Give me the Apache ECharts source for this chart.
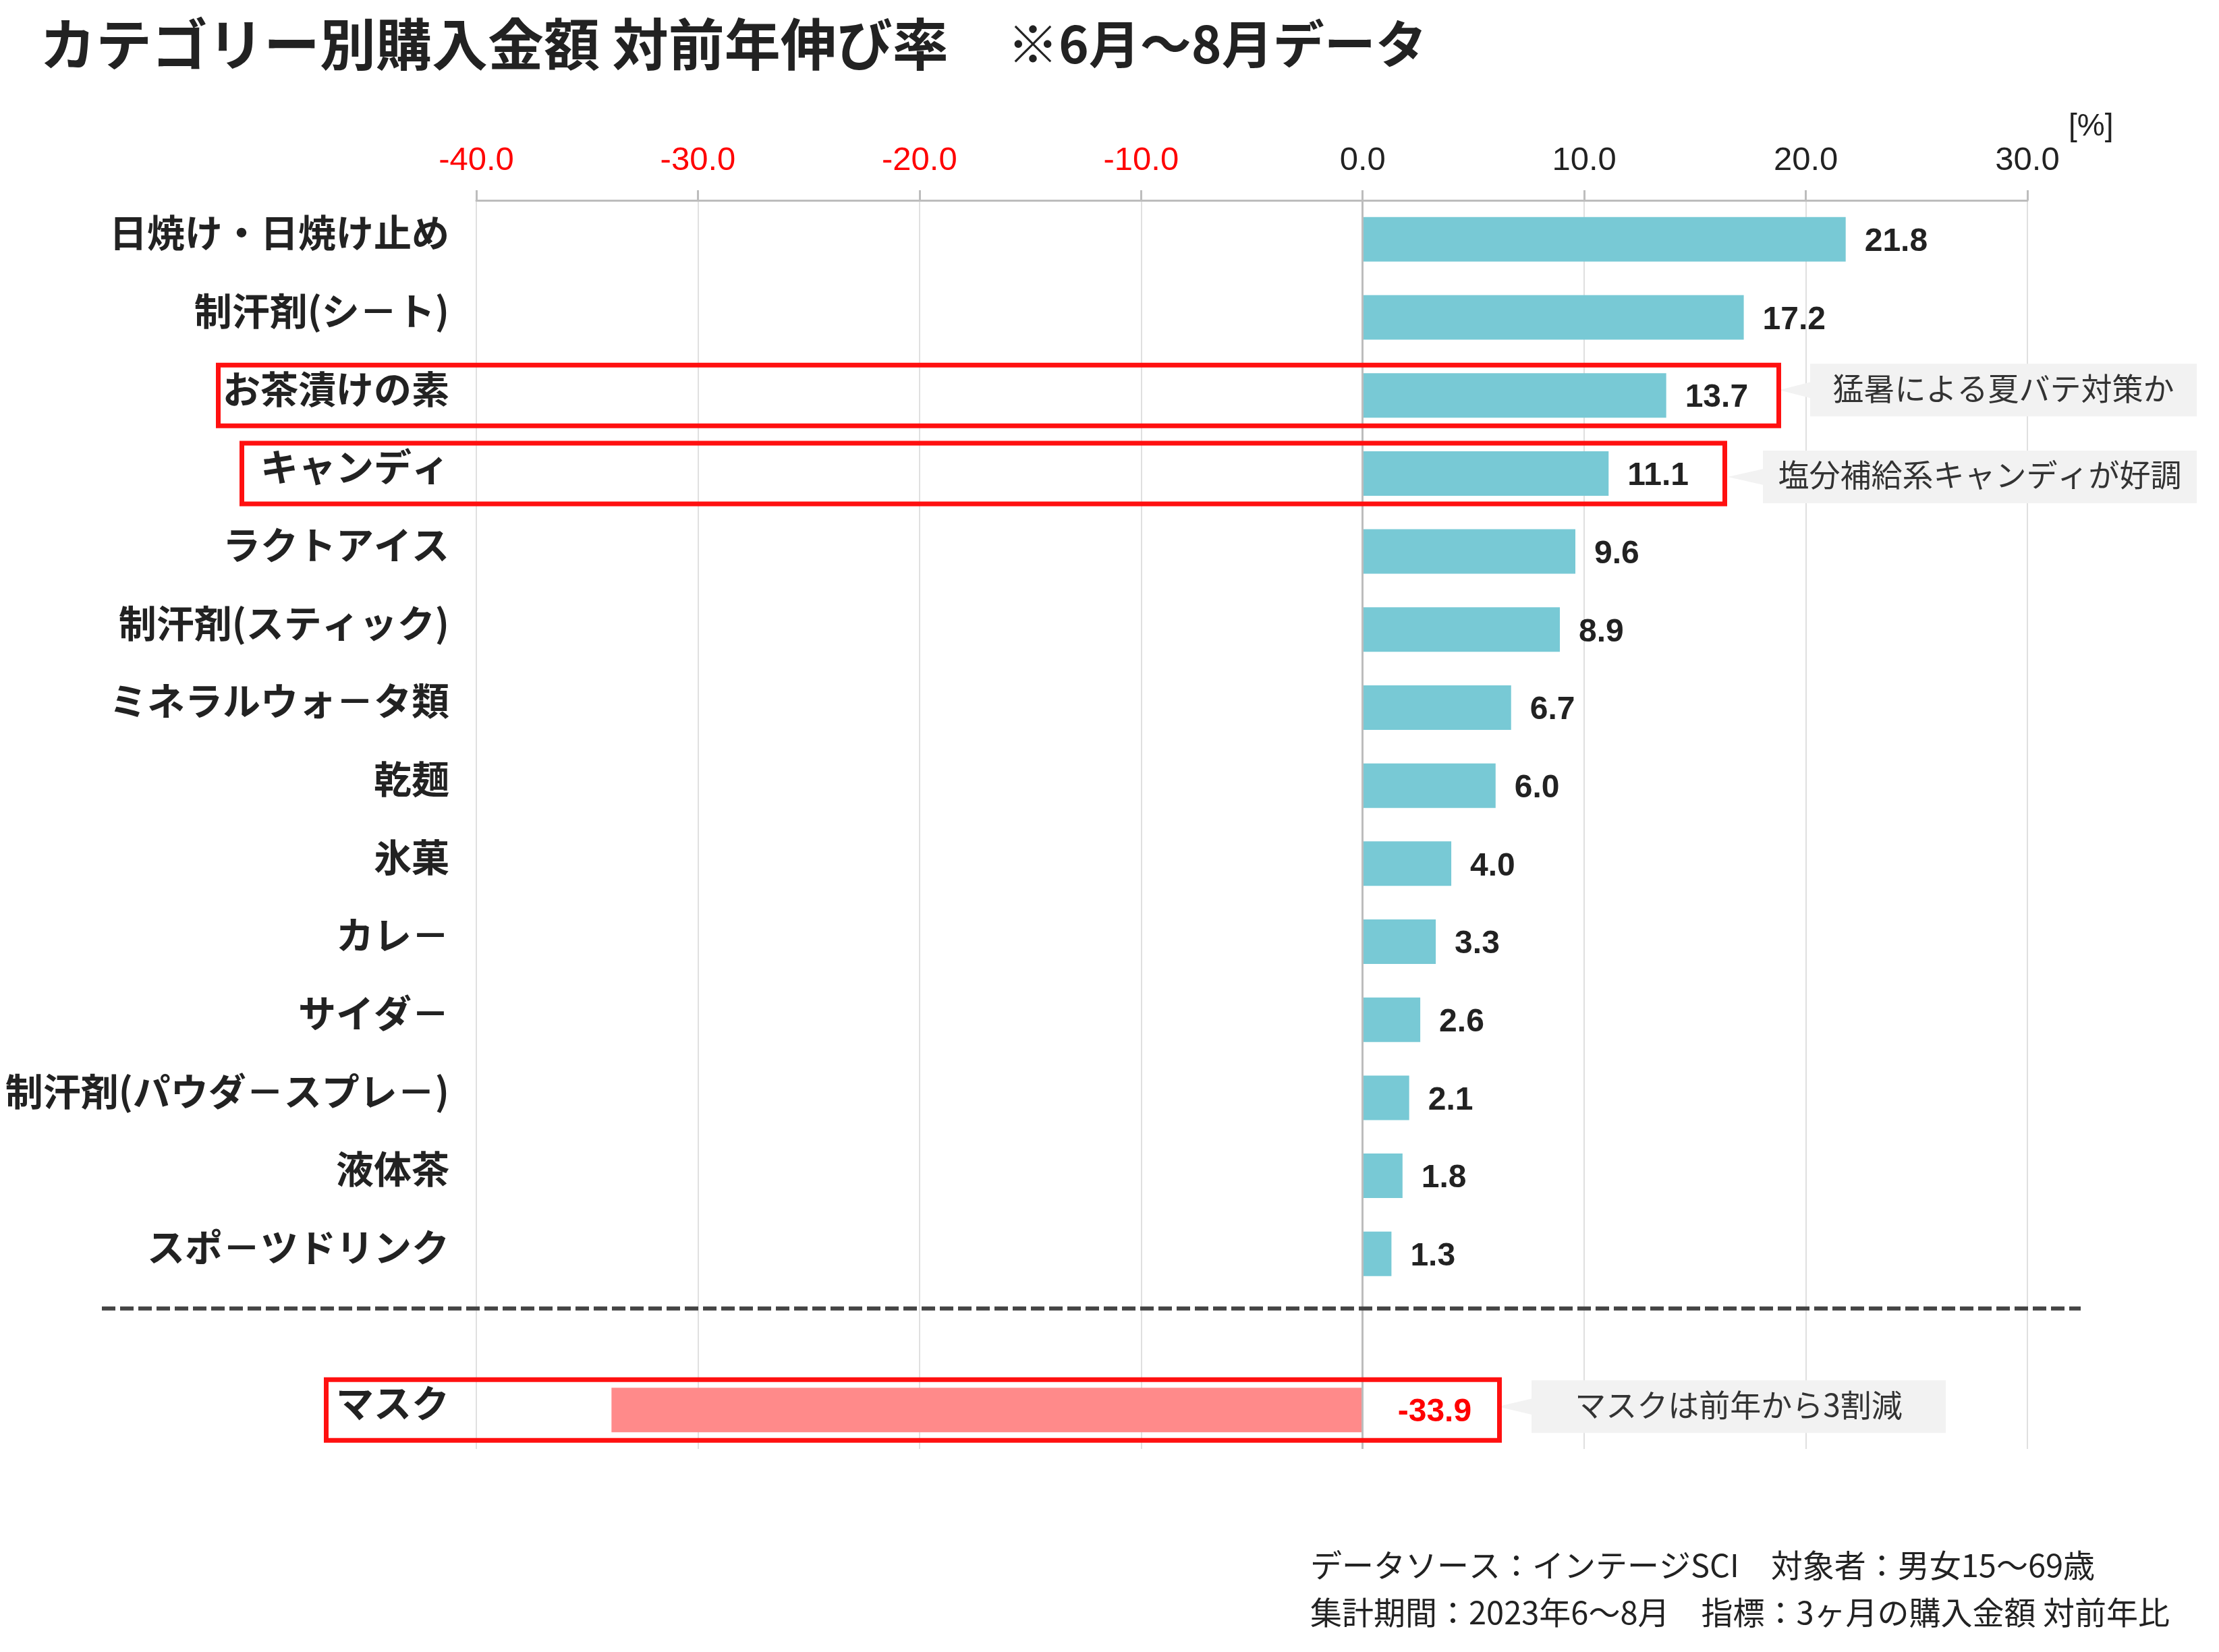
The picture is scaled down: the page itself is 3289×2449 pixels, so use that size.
<!DOCTYPE html>
<html>
<head>
<meta charset="utf-8">
<script src="https://cdn.jsdelivr.net/npm/echarts@6/dist/echarts.min.js"></script>
<style>
html,body{margin:0;padding:0;background:#fff;}
#chart{width:3289px;height:2449px;}
</style>
</head>
<body>
<div id="chart"></div>
<script>
// ---- data ----
const categories = ['日焼け・日焼け止め','制汗剤(シ－ト)','お茶漬けの素','キャンディ','ラクトアイス','制汗剤(スティック)','ミネラルウォ－タ類','乾麺','氷菓','カレ－','サイダ－','制汗剤(パウダ－スプレ－)','液体茶','スポ－ツドリンク','','マスク'];
const values = [21.8, 17.2, 13.7, 11.1, 9.6, 8.9, 6.7, 6.0, 4.0, 3.3, 2.6, 2.1, 1.8, 1.3, null, -33.9];
const axisMin = -40, axisMax = 30, axisStep = 10;
const highlighted = ['お茶漬けの素','キャンディ','マスク'];
const notes = ['猛暑による夏バテ対策か','塩分補給系キャンディが好調','マスクは前年から3割減'];
const titleMain = 'カテゴリー別購入金額 対前年伸び率';
const titleSub = '※6月～8月データ';
const unitText = '[%]';
const footer1 = 'データソース：インテージSCI　対象者：男女15～69歳';
const footer2 = '集計期間：2023年6～8月　指標：3ヶ月の購入金額 対前年比';

// ---- styles / layout ----
const JP = '"Noto Sans CJK JP", "Noto Sans", sans-serif';
const LAT = '"Liberation Sans", Arial, sans-serif';
const posColor = '#78c9d5';
const negColor = '#ff8a8a';
const red = '#ff0000';
const ink = '#222222';

const chart = echarts.init(document.getElementById('chart'), null, {renderer: 'canvas'});

const seriesData = values.map(v => {
  if (v === null) return '-';
  if (v < 0) return {value: v, itemStyle: {color: negColor}, label: {color: red, distance: 52}};
  return {value: v};
});

chart.setOption({
  animation: false,
  backgroundColor: '#ffffff',
  grid: {left: 706, right: 284, top: 297, bottom: 301, containLabel: false},
  xAxis: {
    type: 'value', position: 'top', min: axisMin, max: axisMax, interval: axisStep,
    axisLine: {show: true, lineStyle: {color: '#bdbdbd', width: 3}},
    axisTick: {show: true, length: 15, lineStyle: {color: '#bdbdbd', width: 3}},
    splitLine: {show: true, lineStyle: {color: '#e0e0e0', width: 2}},
    axisLabel: {
      margin: 34, fontFamily: LAT, fontSize: 49,
      formatter: v => v.toFixed(1),
      color: v => (Number(v) < 0 ? red : ink)
    }
  },
  yAxis: {
    type: 'category', inverse: true, data: categories,
    axisLine: {show: false}, axisTick: {show: false}, splitLine: {show: false},
    axisLabel: {margin: 40, fontFamily: JP, fontSize: 56, fontWeight: 'bold', color: ink,
      verticalAlign: 'bottom', lineHeight: 20}
  },
  series: [{
    type: 'bar',
    data: seriesData,
    barWidth: '57%',
    itemStyle: {color: posColor},
    label: {
      show: true, position: 'right', distance: 28,
      verticalAlign: 'top', lineHeight: 8,
      fontFamily: LAT, fontSize: 48, fontWeight: 'bold', color: ink,
      formatter: p => (typeof p.value === 'number' ? p.value.toFixed(1) : '')
    },
    markLine: {
      silent: true, symbol: ['none', 'none'], label: {show: false},
      lineStyle: {color: '#bdbdbd', width: 3, type: 'solid'},
      data: [{xAxis: 0}]
    }
  }]
});

// ---- annotations positioned from the axes ----
const yOf = c => chart.convertToPixel({yAxisIndex: 0}, c);
const boxes = [
  {left: 320, right: 2640},
  {left: 355, right: 2560},
  {left: 480, right: 2226}
];
const callouts = [
  {left: 2683, right: 3256, dy: -8, tip: 2637},
  {left: 2613, right: 3256, dy: 5, tip: 2561},
  {left: 2270, right: 2884, dy: -5, tip: 2220}
];
const gfx = [];
highlighted.forEach((cat, i) => {
  const cy = yOf(cat);
  const b = boxes[i];
  gfx.push({type: 'rect', shape: {x: b.left + 3.5, y: cy - 45, width: b.right - b.left - 7, height: 90},
    style: {fill: 'none', stroke: '#ff1010', lineWidth: 7}, z: 100});
  const c = callouts[i];
  const ccy = cy + c.dy;
  gfx.push({type: 'rect', shape: {x: c.left, y: ccy - 39, width: c.right - c.left, height: 78},
    style: {fill: '#f2f2f2'}, z: 90});
  gfx.push({type: 'polygon', shape: {points: [[c.tip, ccy], [c.left + 1, ccy - 12], [c.left + 1, ccy + 12]]},
    style: {fill: '#f2f2f2'}, z: 90});
  gfx.push({type: 'text', x: (c.left + c.right) / 2, y: ccy - 3,
    style: {text: notes[i], font: '46px ' + JP, fill: '#333333', textAlign: 'center', textVerticalAlign: 'middle'}, z: 95});
});
// separator line between main list and マスク
const ySep = yOf(categories[13]) + (yOf(categories[14]) - yOf(categories[13])) * 0.7;
gfx.push({type: 'line', shape: {x1: 151, y1: ySep, x2: 3084, y2: ySep},
  style: {stroke: '#444444', lineWidth: 6, lineDash: [20, 7]}, z: 100});
// titles and notes
gfx.push({type: 'text', x: 59, y: 65, style: {text: titleMain, font: 'bold 83px ' + JP, fill: ink, textVerticalAlign: 'middle'}});
gfx.push({type: 'text', x: 1493, y: 65, style: {text: titleSub, font: 'bold 76px ' + JP, fill: ink, textVerticalAlign: 'middle'}});
gfx.push({type: 'text', x: 3066, y: 188, style: {text: unitText, font: '46px ' + LAT, fill: ink, textVerticalAlign: 'middle'}});
gfx.push({type: 'text', x: 1942, y: 2320, style: {text: footer1, font: '47px ' + JP, fill: ink, textVerticalAlign: 'middle'}});
gfx.push({type: 'text', x: 1942, y: 2390, style: {text: footer2, font: '47px ' + JP, fill: ink, textVerticalAlign: 'middle'}});

chart.setOption({graphic: gfx});
</script>
</body>
</html>
